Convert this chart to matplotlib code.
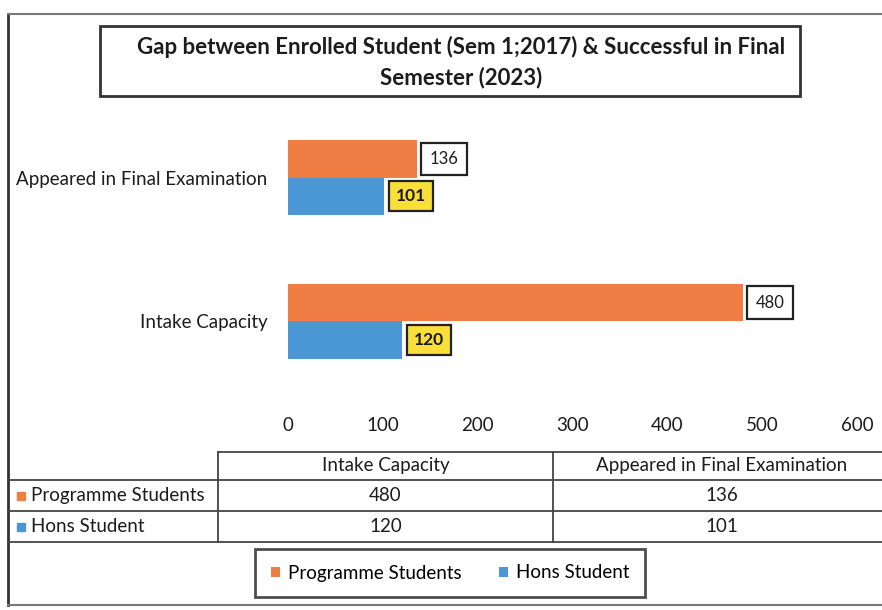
import numpy as np
import matplotlib.pyplot as plt
from matplotlib.patches import Rectangle

# data
categories = ['Intake Capacity', 'Appeared in Final Examination']
programme = [480, 136]
hons = [120, 101]
series_names = ['Programme Students', 'Hons Student']
xticks = [0, 100, 200, 300, 400, 500, 600]

orange = '#F07D43'
blue = '#4B97D6'
yellow = '#F9DF3A'
txt = '#1c1c1c'

plt.rcParams['font.family'] = ['Lato', 'DejaVu Sans']

W, H = 882, 610
fig = plt.figure(figsize=(W / 100, H / 100), dpi=100)
fig.patch.set_facecolor('white')

# overlay in pixel coords for frame, title box and data table
ov = fig.add_axes([0, 0, 1, 1], zorder=0)
ov.set_xlim(0, W)
ov.set_ylim(H, 0)
ov.axis('off')

# main bar axes
x0, x1 = 288, 857
ytop, ybot = 105.75, 393
ax = fig.add_axes([x0 / W, 1 - ybot / H, (x1 - x0) / W, (ybot - ytop) / H], zorder=2)
ax.patch.set_alpha(0)

y = np.arange(len(categories))
hgt = 0.26
b1 = ax.barh(y + hgt / 2, programme, height=hgt, color=orange, label=series_names[0])
b2 = ax.barh(y - hgt / 2, hons, height=hgt, color=blue, label=series_names[1])

ax.bar_label(b1, padding=9, fontsize=12, color=txt,
             bbox=dict(boxstyle='square,pad=0.5', fc='white', ec='#222222', lw=1.6))
ax.bar_label(b2, padding=9, fontsize=12.5, fontweight='bold', color=txt,
             bbox=dict(boxstyle='square,pad=0.4', fc=yellow, ec='#222222', lw=1.6))

ax.set_xlim(0, 600)
ax.set_ylim(-0.5, 1.5)
ax.set_xticks(xticks)
ax.set_yticks(y)
ax.set_yticklabels(categories)
ax.tick_params(axis='x', length=0, pad=17, labelsize=13.5, labelcolor=txt)
ax.tick_params(axis='y', length=0, pad=15, labelsize=13.5, labelcolor=txt)
for s in ax.spines.values():
    s.set_visible(False)

# outer chart frame (right side cut off in the photo)
lc = '#333333'
ov.plot([8, 8], [14, 605], color=lc, lw=2)
ov.plot([8, W], [14, 14], color='#777777', lw=1.5)
ov.plot([8, W], [605, 605], color='#777777', lw=1.5)

# title box
ov.add_patch(Rectangle((100, 26), 700, 70, fill=False, ec=lc, lw=2))
ov.text(461, 47, 'Gap between Enrolled Student (Sem 1;2017) & Successful in Final',
        ha='center', va='center', fontsize=16, fontweight='bold', color=txt)
ov.text(461, 78, 'Semester (2023)', ha='center', va='center',
        fontsize=16, fontweight='bold', color=txt)

# data table
tc = '#444444'
colx = [218, 553, 891]
rowy = [452, 480, 511, 542]
ov.plot([colx[0], W], [rowy[0], rowy[0]], color=tc, lw=1.3)
for yy in rowy[1:]:
    ov.plot([8, W], [yy, yy], color=tc, lw=1.3)
for xx in colx[:2]:
    ov.plot([xx, xx], [rowy[0], rowy[-1]], color=tc, lw=1.3)

for j, cat in enumerate(categories):
    cx = (colx[j] + colx[j + 1]) / 2
    ov.text(cx, (rowy[0] + rowy[1]) / 2, cat, ha='center', va='center',
            fontsize=13.5, color=txt)
    for i, vals in enumerate([programme, hons]):
        ov.text(cx, (rowy[i + 1] + rowy[i + 2]) / 2, str(vals[j]), ha='center',
                va='center', fontsize=13.5, color=txt)

for i, (name, col) in enumerate(zip(series_names, [orange, blue])):
    yc = (rowy[i + 1] + rowy[i + 2]) / 2
    ov.add_patch(Rectangle((17, yc - 4), 8, 8, color=col))
    ov.text(31, yc, name, ha='left', va='center', fontsize=13.5, color=txt)

# legend
leg = fig.legend(handles=[b1, b2], loc='center', bbox_to_anchor=(450 / W, 1 - 573 / H),
                 ncol=2, frameon=True, fancybox=False, fontsize=13.5,
                 handlelength=0.5, handleheight=0.5, handletextpad=0.4,
                 columnspacing=2.0, borderpad=0.85, borderaxespad=0)
leg.get_frame().set_edgecolor('#222222')
leg.get_frame().set_linewidth(2)

fig.savefig('out.png', dpi=100, facecolor='white')
